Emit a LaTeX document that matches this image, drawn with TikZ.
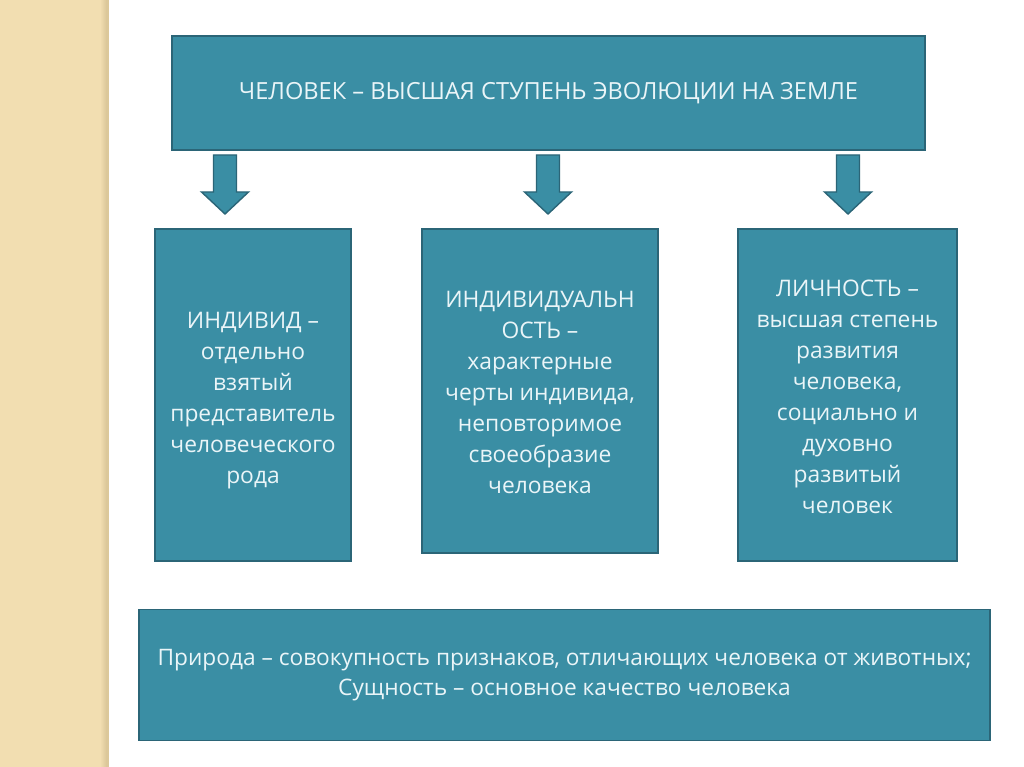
\documentclass[tikz,border=0pt]{standalone}
\usepackage{fontspec}
\setmainfont{Open Sans}
\definecolor{boxfill}{HTML}{3A8EA4}
\definecolor{boxline}{HTML}{2B6577}
\definecolor{boxtext}{HTML}{EAF5F8}
\definecolor{strip}{HTML}{F2DEB1}
\definecolor{stripedge}{HTML}{DCC89A}
\tikzset{
  x=1pt,y=-1pt,
  tealbox/.style={draw=boxline,line width=1.6pt,fill=boxfill,text=boxtext,align=center,inner sep=0pt},
  boxlabel/.style={text=boxtext,align=center,font=\fontsize{22.8}{31}\selectfont,anchor=north,inner sep=0pt},
  downarrow/.style={draw=boxline,line width=1.4pt,fill=boxfill},
}
\begin{document}
\begin{tikzpicture}
\useasboundingbox (0,0) rectangle (1024,767);
\fill[white] (0,0) rectangle (1024,767);
\fill[strip] (0,0) rectangle (109,767);
\shade[left color=strip,right color=stripedge] (100,0) rectangle (106,767);
\fill[stripedge] (106,0) rectangle (109,767);
% top box
\node[tealbox,minimum width=753pt,minimum height=114pt,font=\fontsize{23.6}{25}\selectfont] (top) at (548.5,93) {ЧЕЛОВЕК – ВЫСШАЯ СТУПЕНЬ ЭВОЛЮЦИИ НА ЗЕМЛЕ};
% three boxes
\node[tealbox,minimum width=196pt,minimum height=332pt] (b1) at (253,395) {};
\node[tealbox,minimum width=236pt,minimum height=324pt] (b2) at (540,391) {};
\node[tealbox,minimum width=219pt,minimum height=332pt] (b3) at (847.5,395) {};
\node[boxlabel] (t1) at (253,312) {ИНДИВИД –\\отдельно\\взятый\\представитель\\человеческого\\рода};
\node[boxlabel] (t2) at (540,291) {ИНДИВИДУАЛЬН\\ОСТЬ –\\характерные\\черты индивида,\\неповторимое\\своеобразие\\человека};
\node[boxlabel] (t3) at (847.5,280) {ЛИЧНОСТЬ –\\высшая степень\\развития\\человека,\\социально и\\духовно\\развитый\\человек};
% bottom
\node[tealbox,minimum width=851pt,minimum height=131pt,font=\fontsize{22.7}{30}\selectfont] (bot) at (564.5,675) {Природа – совокупность признаков, отличающих человека от животных;\\Сущность – основное качество человека};
% arrows
\foreach \n/\cx in {a1/225,a2/548,a3/848}{
  \coordinate (\n) at (\cx,155);
  \draw[downarrow] (\n) ++(-11.5,0) -- ++(0,37) -- ++(-12,0) -- ++(23.5,22) -- ++(23.5,-22) -- ++(-12,0) -- ++(0,-37) -- cycle;
}
\end{tikzpicture}
\end{document}
